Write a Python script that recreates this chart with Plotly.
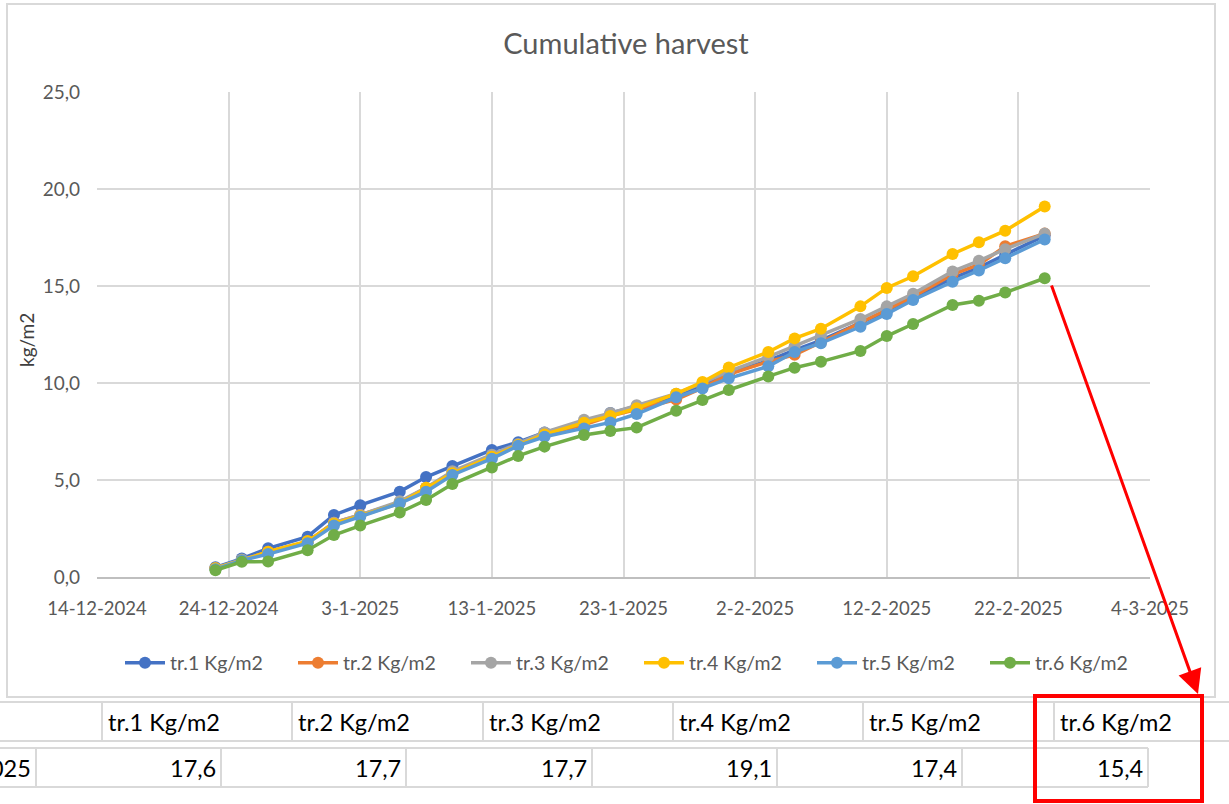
import plotly.graph_objects as go

dates = ["2024-12-23", "2024-12-25", "2024-12-27", "2024-12-30", "2025-01-01", "2025-01-03",
         "2025-01-06", "2025-01-08", "2025-01-10", "2025-01-13", "2025-01-15", "2025-01-17",
         "2025-01-20", "2025-01-22", "2025-01-24", "2025-01-27", "2025-01-29", "2025-01-31",
         "2025-02-03", "2025-02-05", "2025-02-07", "2025-02-10", "2025-02-12", "2025-02-14",
         "2025-02-17", "2025-02-19", "2025-02-21", "2025-02-24"]

tr1 = [0.5, 0.95, 1.48, 2.08, 3.2, 3.7, 4.4, 5.15, 5.72, 6.55, 6.95, 7.45, 7.95, 8.45,
       8.8, 9.3, 9.85, 10.5, 11.15, 11.7, 12.2, 13.1, 13.7, 14.4, 15.4, 15.95, 16.6, 17.6]
tr2 = [0.45, 0.85, 1.3, 1.82, 2.8, 3.2, 3.85, 4.6, 5.35, 6.2, 6.8, 7.35, 7.85, 8.3,
       8.65, 9.15, 9.75, 10.45, 11.1, 11.45, 12.1, 13.1, 13.75, 14.45, 15.6, 16.1, 17.05, 17.7]
tr3 = [0.45, 0.9, 1.25, 1.8, 2.8, 3.2, 3.9, 4.6, 5.45, 6.3, 6.85, 7.45, 8.1, 8.45,
       8.85, 9.45, 10.0, 10.6, 11.35, 11.9, 12.45, 13.3, 13.95, 14.6, 15.75, 16.3, 16.9, 17.7]
tr4 = [0.45, 0.85, 1.3, 1.85, 2.75, 3.15, 3.8, 4.6, 5.35, 6.2, 6.8, 7.35, 7.95, 8.3,
       8.7, 9.45, 10.05, 10.8, 11.6, 12.3, 12.8, 13.95, 14.9, 15.5, 16.65, 17.25, 17.85, 19.1]
tr5 = [0.4, 0.85, 1.18, 1.74, 2.65, 3.1, 3.8, 4.4, 5.26, 6.1, 6.77, 7.23, 7.66, 7.97,
       8.4, 9.26, 9.72, 10.24, 10.86, 11.6, 12.05, 12.9, 13.56, 14.28, 15.22, 15.8, 16.43, 17.4]
tr6 = [0.35, 0.78, 0.8, 1.38, 2.16, 2.65, 3.33, 3.97, 4.79, 5.65, 6.24, 6.72, 7.32, 7.53,
       7.7, 8.57, 9.12, 9.64, 10.34, 10.79, 11.1, 11.65, 12.42, 13.04, 14.02, 14.24, 14.66, 15.4]

series_names = ["tr.1 Kg/m2", "tr.2 Kg/m2", "tr.3 Kg/m2", "tr.4 Kg/m2", "tr.5 Kg/m2", "tr.6 Kg/m2"]
series_values = [tr1, tr2, tr3, tr4, tr5, tr6]
colors = ["#4472C4", "#ED7D31", "#A5A5A5", "#FFC000", "#5B9BD5", "#70AD47"]

table_date = "24-2-2025"
table_values = ["17,6", "17,7", "17,7", "19,1", "17,4", "15,4"]

W, H = 1229, 804
L, R, T, B = 97, 1150, 92, 577


def px(x):
    return (x - L) / (R - L)


def py(y):
    return (B - y) / (B - T)


FONT = "Lato, 'Open Sans', sans-serif"
GRAY = "#595959"
GRID = "#d9d9d9"

fig = go.Figure()
for name, vals, c in zip(series_names, series_values, colors):
    fig.add_trace(go.Scatter(
        x=dates, y=vals, name=name, mode="lines+markers",
        line=dict(color=c, width=3.5),
        marker=dict(color=c, size=12),
    ))

shapes = []
# chart border
shapes.append(dict(type="rect", xref="paper", yref="paper",
                   x0=px(7), x1=px(1215), y0=py(697), y1=py(4),
                   line=dict(color=GRID, width=2), layer="below"))
# table header lines
shapes.append(dict(type="line", xref="paper", yref="paper", x0=px(0), x1=px(1229),
                   y0=py(702), y1=py(702), line=dict(color=GRID, width=2)))
shapes.append(dict(type="line", xref="paper", yref="paper", x0=px(0), x1=px(1229),
                   y0=py(741), y1=py(741), line=dict(color=GRID, width=2)))
header_cols = [102, 292, 483, 673, 863, 1054]
for xc in header_cols:
    shapes.append(dict(type="line", xref="paper", yref="paper", x0=px(xc), x1=px(xc),
                       y0=py(702), y1=py(741), line=dict(color=GRID, width=2)))
# data row lines
shapes.append(dict(type="line", xref="paper", yref="paper", x0=px(0), x1=px(1148),
                   y0=py(748), y1=py(748), line=dict(color=GRID, width=2)))
shapes.append(dict(type="line", xref="paper", yref="paper", x0=px(0), x1=px(1148),
                   y0=py(787), y1=py(787), line=dict(color=GRID, width=2)))
data_cols = [36, 221, 406, 592, 777, 962, 1148]
for xc in data_cols:
    shapes.append(dict(type="line", xref="paper", yref="paper", x0=px(xc), x1=px(xc),
                       y0=py(748), y1=py(787), line=dict(color=GRID, width=2)))
# red box
shapes.append(dict(type="rect", xref="paper", yref="paper",
                   x0=px(1035), x1=px(1202), y0=py(801), y1=py(696),
                   line=dict(color="#FF0000", width=4)))

annotations = []
TFONT = dict(family="Lato, 'Open Sans', sans-serif", size=23.5, color="#000000")
for xc, name in zip(header_cols, series_names):
    annotations.append(dict(xref="paper", yref="paper", x=px(xc + 4), y=py(722),
                            text=name, showarrow=False, xanchor="left", yanchor="middle",
                            font=TFONT))
annotations.append(dict(xref="paper", yref="paper", x=px(33), y=py(768),
                        text=table_date, showarrow=False, xanchor="right", yanchor="middle",
                        font=TFONT))
for xc, v in zip(data_cols[1:], table_values):
    annotations.append(dict(xref="paper", yref="paper", x=px(xc - 3), y=py(768),
                            text=v, showarrow=False, xanchor="right", yanchor="middle",
                            font=TFONT))
# red arrow (head at box corner, tail below last green point)
annotations.append(dict(xref="paper", yref="paper", axref="pixel", ayref="pixel",
                        x=px(1198), y=py(694), ax=1051 - 1198, ay=284 - 694,
                        text="", showarrow=True, arrowhead=2, arrowsize=1.6,
                        arrowwidth=3, arrowcolor="#FF0000"))
# y title
annotations.append(dict(xref="paper", yref="paper", x=px(26), y=py(340),
                        text="kg/m2", showarrow=False, textangle=-90,
                        xanchor="center", yanchor="middle",
                        font=dict(family=FONT, size=19, color="#404040")))

fig.update_layout(
    width=W, height=H,
    margin=dict(l=L, r=W - R, t=T, b=H - B, pad=0),
    paper_bgcolor="white", plot_bgcolor="white",
    separators=",.",
    font=dict(family=FONT, size=18, color=GRAY),
    title=dict(text="Cumulative harvest", x=px(626), xref="paper", xanchor="center",
               y=1 - 44 / H, yanchor="middle",
               font=dict(family=FONT, size=29, color=GRAY)),
    showlegend=True,
    legend=dict(orientation="h", x=px(639), xanchor="center", y=py(663), yanchor="middle",
                font=dict(family=FONT, size=19.5, color=GRAY), itemwidth=40,
                entrywidth=118, entrywidthmode="pixels",
                bgcolor="rgba(0,0,0,0)"),
    shapes=shapes,
    annotations=annotations,
    xaxis=dict(type="date", range=["2024-12-14", "2025-03-04"], tick0="2024-12-14",
               dtick=10 * 24 * 3600 * 1000, tickformat="%-d-%-m-%Y",
               showgrid=True, gridcolor=GRID, gridwidth=1.5,
               showline=True, linecolor="#bfbfbf", linewidth=1.5,
               ticks="", ticklabelstandoff=14, zeroline=False,
               tickfont=dict(family=FONT, size=18.5, color=GRAY)),
    yaxis=dict(range=[0, 25], dtick=5, tick0=0, tickformat=".1f",
               showgrid=True, gridcolor=GRID, gridwidth=1.5, zeroline=False,
               showline=False, ticks="", ticklabelstandoff=16,
               tickfont=dict(family=FONT, size=19, color=GRAY)),
)

fig.write_html("out.html")
